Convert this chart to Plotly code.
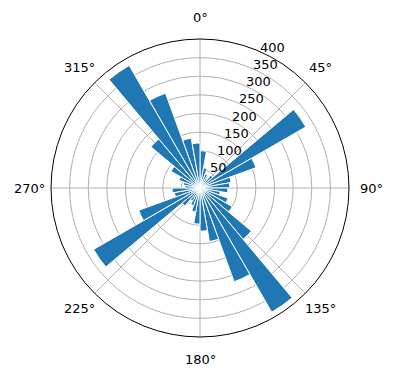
import math
import plotly.graph_objects as go

# bin centers (degrees, clockwise from north)
theta_deg = [5, 15, 25, 35, 45, 55, 65, 75, 85, 95, 105, 115, 125, 135, 145, 155, 165, 175,
             185, 195, 205, 215, 225, 235, 245, 255, 265, 275, 285, 295, 305, 315, 325, 335, 345, 355]
counts = [100, 55, 40, 30, 45, 328, 160, 85, 80, 75, 55, 80, 100, 180, 385, 268, 146, 116,
          97, 65, 50, 40, 63, 330, 175, 70, 75, 40, 45, 60, 90, 172, 380, 271, 136, 121]
bin_width = 10

r_ticks = [50, 100, 150, 200, 250, 300, 350, 400]
r_max = 400
a_ticks = [0, 45, 90, 135, 180, 225, 270, 315]
a_labels = [f"{a}°" for a in a_ticks]

fig = go.Figure()
fig.add_trace(go.Barpolar(
    r=counts,
    theta=theta_deg,
    width=[bin_width] * len(counts),
    marker=dict(color="#1f77b4", line=dict(color="white", width=1)),
    opacity=1,
))

W, H = 396, 380
cx, cy, R = 200, 188, 149
label_pad = 22
rlabel_angle = 22.5

annotations = []
for a, lab in zip(a_ticks, a_labels):
    px = cx + (R + label_pad) * math.sin(math.radians(a))
    py = cy - (R + label_pad) * math.cos(math.radians(a))
    annotations.append(dict(
        x=px / W, y=1 - py / H, xref="paper", yref="paper",
        text=lab, showarrow=False, xanchor="center", yanchor="middle",
        font=dict(size=13, color="black", family="DejaVu Sans"),
    ))
for v in r_ticks:
    rr = R * v / r_max
    px = cx + rr * math.sin(math.radians(rlabel_angle)) + 1
    py = cy - rr * math.cos(math.radians(rlabel_angle)) - 3
    annotations.append(dict(
        x=px / W, y=1 - py / H, xref="paper", yref="paper",
        text=str(v), showarrow=False, xanchor="left", yanchor="middle",
        font=dict(size=13, color="black", family="DejaVu Sans"),
    ))

fig.update_layout(
    width=W, height=H,
    margin=dict(l=0, r=0, t=0, b=0),
    paper_bgcolor="white",
    showlegend=False,
    font=dict(family="DejaVu Sans", size=13, color="black"),
    annotations=annotations,
    polar=dict(
        domain=dict(x=[(cx - R) / W, (cx + R) / W], y=[(H - cy - R) / H, (H - cy + R) / H]),
        bgcolor="white",
        bargap=0,
        radialaxis=dict(
            range=[0, r_max], tickvals=r_ticks, showticklabels=False,
            showline=False, ticks="",
            gridcolor="#b0b0b0", gridwidth=0.8,
        ),
        angularaxis=dict(
            rotation=90, direction="clockwise",
            tickvals=a_ticks, showticklabels=False,
            showline=True, linecolor="black", linewidth=1,
            gridcolor="#b0b0b0", gridwidth=0.8, ticks="",
        ),
    ),
)

fig.write_html("out.html")
